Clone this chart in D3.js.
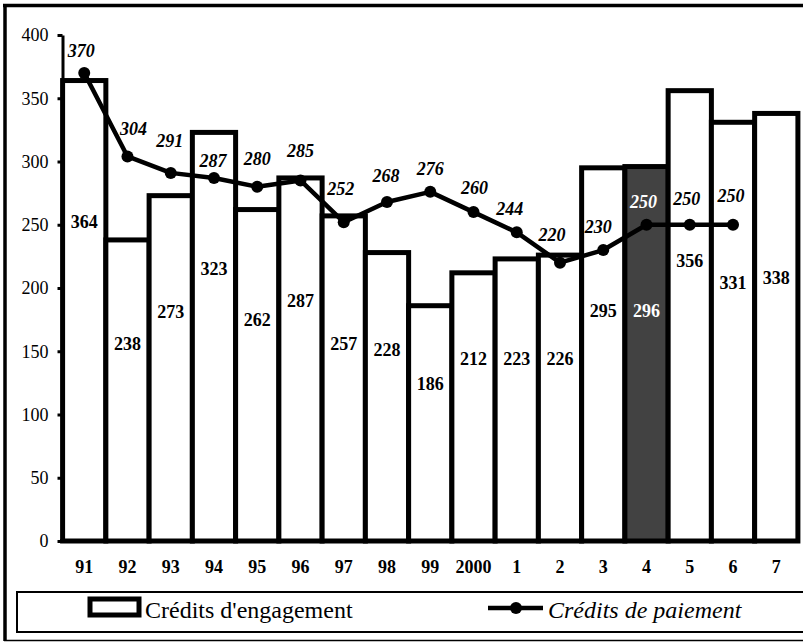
<!DOCTYPE html>
<html>
<head>
<meta charset="utf-8">
<script src="https://cdn.jsdelivr.net/npm/d3@7"></script>
<style>
  body { margin: 0; background: #fff; }
  svg { display: block; }
</style>
</head>
<body>
<div id="graph"></div>
<script>
// data
var years = ["91","92","93","94","95","96","97","98","99","2000","1","2","3","4","5","6","7"];
var engagement = [364,238,273,323,262,287,257,228,186,212,223,226,295,296,356,331,338];
var paiement = [370,304,291,287,280,285,252,268,276,260,244,220,230,250,250,250];
var yTicks = [0,50,100,150,200,250,300,350,400];
var darkYear = "4";

// where the original put its labels (hand placed there too)
var engLabelAt = [252,156,181,215,175,190,156,151,124,144,144,144,182,182,221,204,208]; // in chart units
var payNudge = [[-3,-22],[6,-27],[-1,-32],[-1,-17],[0,-28],[0,-29],[-3,-33],[-1,-26],
                [0,-23],[1,-24],[-7,-23],[-8,-28],[-5,-23],[-3,-23],[-3,-26],[-2,-29]];

var W = 803, H = 643;

var svg = d3.select("#graph")
  .append("svg")
    .attr("width", W)
    .attr("height", H);

// outer frame (thick top/left, thin bottom)
svg.append("line").attr("x1", 3).attr("x2", W).attr("y1", 5.5).attr("y2", 5.5)
  .attr("stroke", "#000").attr("stroke-width", 3.5);
svg.append("line").attr("x1", 5).attr("x2", 5).attr("y1", 4).attr("y2", 641)
  .attr("stroke", "#000").attr("stroke-width", 3.5);
svg.append("line").attr("x1", 4).attr("x2", W).attr("y1", 640.5).attr("y2", 640.5)
  .attr("stroke", "#000").attr("stroke-width", 1.5);

// scales
var x = d3.scaleBand().domain(years).range([62.6, 797.9]).padding(0);
var y = d3.scaleLinear().domain([0, 400]).range([541, 35]);
var bw = x.bandwidth();

// y axis
var yAxis = svg.append("g")
  .attr("transform", "translate(62.5,0)")
  .call(d3.axisLeft(y).tickValues(yTicks).tickSize(5).tickSizeOuter(0).tickPadding(9));
yAxis.select(".domain").attr("stroke-width", 3);
yAxis.selectAll(".tick line").attr("stroke-width", 3);
yAxis.selectAll(".tick text")
  .attr("font-size", 18)
  .attr("fill", "#000");

// bars - Crédits d'engagement
svg.append("g")
  .selectAll("rect")
  .data(engagement)
  .enter()
  .append("rect")
    .attr("x", function(d, i) { return x(years[i]); })
    .attr("width", bw)
    .attr("y", function(d) { return y(d); })
    .attr("height", function(d) { return y(0) - y(d); })
    .style("fill", function(d, i) { return years[i] == darkYear ? "#424242" : "#fff"; })
    .style("stroke", "#000")
    .style("stroke-width", 5);

// x axis baseline
svg.append("line")
  .attr("x1", 60).attr("x2", x("7"))
  .attr("y1", y(0)).attr("y2", y(0))
  .attr("stroke", "#000").attr("stroke-width", 4);

// bar value labels
svg.append("g")
  .selectAll("text")
  .data(engagement)
  .enter()
  .append("text")
    .attr("x", function(d, i) { return x(years[i]) + bw / 2; })
    .attr("y", function(d, i) { return y(engLabelAt[i]) + 6; })
    .attr("text-anchor", "middle")
    .attr("font-size", 18)
    .attr("font-weight", "bold")
    .attr("fill", function(d, i) { return years[i] == darkYear ? "#fff" : "#000"; })
    .text(function(d) { return d; });

// x category labels
svg.append("g")
  .selectAll("text")
  .data(years)
  .enter()
  .append("text")
    .attr("x", function(d) { return x(d) + bw / 2; })
    .attr("y", 573)
    .attr("text-anchor", "middle")
    .attr("font-size", 18)
    .attr("font-weight", "bold")
    .text(function(d) { return d; });

// line - Crédits de paiement
var line = d3.line()
  .x(function(d, i) { return x(years[i]) + bw / 2; })
  .y(function(d) { return y(d); });

svg.append("path")
  .datum(paiement)
  .attr("d", line)
  .attr("fill", "none")
  .attr("stroke", "#000")
  .attr("stroke-width", 4.5)
  .attr("stroke-linejoin", "round");

svg.append("g")
  .selectAll("circle")
  .data(paiement)
  .enter()
  .append("circle")
    .attr("cx", function(d, i) { return x(years[i]) + bw / 2; })
    .attr("cy", function(d) { return y(d); })
    .attr("r", 6)
    .attr("fill", "#000");

svg.append("g")
  .selectAll("text")
  .data(paiement)
  .enter()
  .append("text")
    .attr("x", function(d, i) { return x(years[i]) + bw / 2 + payNudge[i][0]; })
    .attr("y", function(d, i) { return y(d) + payNudge[i][1] + 6; })
    .attr("text-anchor", "middle")
    .attr("font-size", 18)
    .attr("font-weight", "bold")
    .attr("font-style", "italic")
    .attr("fill", function(d, i) { return years[i] == darkYear ? "#fff" : "#000"; })
    .text(function(d) { return d; });

// legend
var leg = svg.append("g");
leg.append("rect")
  .attr("x", 17).attr("y", 592)
  .attr("width", W).attr("height", 40)
  .attr("fill", "none").attr("stroke", "#000").attr("stroke-width", 2);

leg.append("rect")
  .attr("x", 90).attr("y", 599)
  .attr("width", 49).attr("height", 16)
  .attr("fill", "#fff").attr("stroke", "#000").attr("stroke-width", 5);
leg.append("text")
  .attr("x", 145).attr("y", 618)
  .attr("font-size", 24)
  .text("Crédits d'engagement");

leg.append("line")
  .attr("x1", 488).attr("x2", 543).attr("y1", 608).attr("y2", 608)
  .attr("stroke", "#000").attr("stroke-width", 4.5);
leg.append("circle")
  .attr("cx", 516).attr("cy", 608).attr("r", 6).attr("fill", "#000");
leg.append("text")
  .attr("x", 548).attr("y", 618)
  .attr("font-size", 24)
  .attr("font-style", "italic")
  .text("Crédits de paiement");

// serif everywhere, as in the original
svg.selectAll("text").style("font-family", "Liberation Serif");
</script>
</body>
</html>
